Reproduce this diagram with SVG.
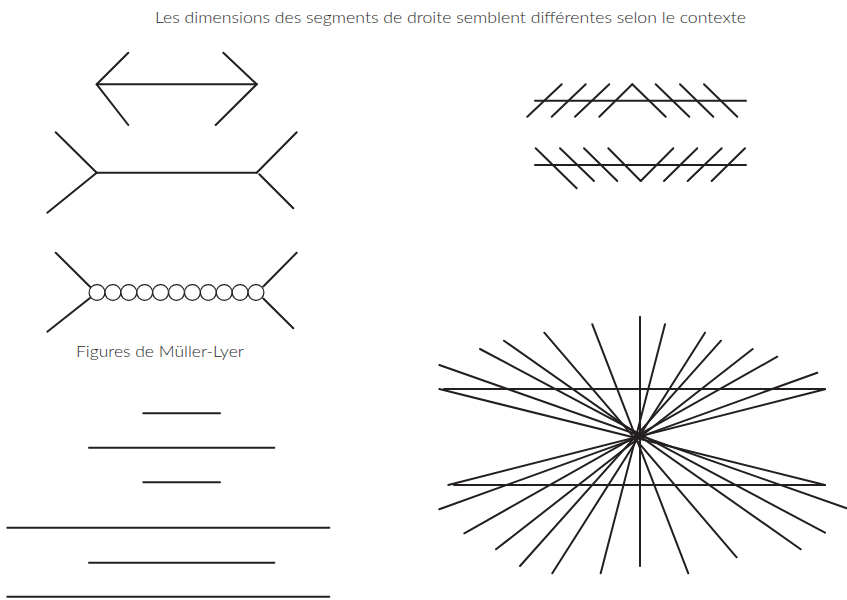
<svg xmlns="http://www.w3.org/2000/svg" width="847" height="600" viewBox="0 0 847 600">
  <style>
    .ln { stroke: #231f20; stroke-width: 2; stroke-linecap: round; fill: none; }
    .ring { stroke: #231f20; stroke-width: 1.2; fill: #fff; }
    .lbl { font-family: Lato, "Open Sans", "Liberation Sans", sans-serif; font-weight: 300; fill: #2b2b2b; }
  </style>
  <rect width="847" height="600" fill="#fff"/>

  <text class="lbl" x="155" y="23" font-size="16" textLength="591" lengthAdjust="spacingAndGlyphs">Les dimensions des segments de droite semblent différentes selon le contexte</text>

  <!-- Müller-Lyer: arrowheads pointing outward -->
  <g id="ml-outward" class="ln">
    <line x1="96.7" y1="84.3" x2="256.7" y2="84.3"/>
    <line x1="96.7" y1="84.3" x2="128.3" y2="52.7"/>
    <line x1="96.7" y1="84.3" x2="128.3" y2="125"/>
    <line x1="256.7" y1="84.3" x2="223.3" y2="52.7"/>
    <line x1="256.7" y1="84.3" x2="215.7" y2="125"/>
  </g>

  <!-- Müller-Lyer: fins pointing inward -->
  <g id="ml-inward" class="ln">
    <line x1="96.7" y1="172.7" x2="256.7" y2="172.7"/>
    <line x1="96.7" y1="172.7" x2="55.7" y2="132.3"/>
    <line x1="96.7" y1="172.7" x2="47.3" y2="212.7"/>
    <line x1="256.7" y1="172.7" x2="296.7" y2="132.3"/>
    <line x1="259.3" y1="174.3" x2="293.3" y2="208.3"/>
  </g>

  <!-- Müller-Lyer: chain of circles between fins -->
  <g id="ml-circles">
    <g class="ln">
      <line x1="90" y1="286.7" x2="55.7" y2="252.7"/>
      <line x1="90" y1="298" x2="47.3" y2="331.7"/>
      <line x1="263.3" y1="286.5" x2="296.7" y2="252.7"/>
      <line x1="263.3" y1="298.5" x2="293.3" y2="328.3"/>
    </g>
    <g class="ring">
      <circle cx="97" cy="292.5" r="7.9"/>
      <circle cx="112.9" cy="292.5" r="7.9"/>
      <circle cx="128.8" cy="292.5" r="7.9"/>
      <circle cx="144.7" cy="292.5" r="7.9"/>
      <circle cx="160.6" cy="292.5" r="7.9"/>
      <circle cx="176.5" cy="292.5" r="7.9"/>
      <circle cx="192.4" cy="292.5" r="7.9"/>
      <circle cx="208.3" cy="292.5" r="7.9"/>
      <circle cx="224.2" cy="292.5" r="7.9"/>
      <circle cx="240.1" cy="292.5" r="7.9"/>
      <circle cx="256" cy="292.5" r="7.9"/>
    </g>
  </g>

  <text class="lbl" x="76" y="357" font-size="15" textLength="168" lengthAdjust="spacingAndGlyphs">Figures de Müller-Lyer</text>

  <!-- Ponzo-style stacked segments -->
  <g id="stacked" class="ln">
    <line x1="143.3" y1="413.3" x2="220" y2="413.3"/>
    <line x1="89" y1="447.7" x2="274.3" y2="447.7"/>
    <line x1="143.3" y1="482.3" x2="220" y2="482.3"/>
    <line x1="7.3" y1="527.7" x2="329.3" y2="527.7"/>
    <line x1="89" y1="562.7" x2="274.3" y2="562.7"/>
    <line x1="7.3" y1="596.7" x2="329.3" y2="596.7"/>
  </g>

  <!-- Zöllner-style hatched parallels: upper -->
  <g id="hatch-top" class="ln">
    <line x1="535" y1="100.7" x2="746" y2="100.7"/>
    <line x1="527.3" y1="116.7" x2="561.7" y2="84.3"/>
    <line x1="551.7" y1="116.7" x2="585.7" y2="84.3"/>
    <line x1="575" y1="116.7" x2="609.3" y2="84.3"/>
    <line x1="599.3" y1="116.7" x2="632.3" y2="84.3"/>
    <line x1="632.3" y1="84.3" x2="665.7" y2="116.7"/>
    <line x1="655.7" y1="84.3" x2="689.3" y2="116.7"/>
    <line x1="680" y1="84.3" x2="713.3" y2="116.7"/>
    <line x1="704" y1="84.3" x2="737.3" y2="116.7"/>
  </g>

  <!-- Zöllner-style hatched parallels: lower -->
  <g id="hatch-bottom" class="ln">
    <line x1="535" y1="165" x2="746" y2="165"/>
    <line x1="535.7" y1="148.3" x2="576.7" y2="188.3"/>
    <line x1="560" y1="148.3" x2="594" y2="181"/>
    <line x1="584" y1="148.3" x2="617.3" y2="181"/>
    <line x1="608.3" y1="148.3" x2="640.7" y2="181"/>
    <line x1="640.7" y1="181" x2="673.3" y2="148.3"/>
    <line x1="664" y1="181" x2="697.3" y2="148.3"/>
    <line x1="687.7" y1="181" x2="721.7" y2="148.3"/>
    <line x1="711.7" y1="181" x2="745" y2="148.3"/>
  </g>

  <!-- Hering-style radiating lines with two horizontals -->
  <g id="radial" class="ln">
    <line x1="444" y1="389" x2="825" y2="389"/>
    <line x1="454" y1="485" x2="825" y2="485"/>
    <line x1="640" y1="316.7" x2="640" y2="566"/>
    <line x1="592.3" y1="324.3" x2="688.3" y2="573.3"/>
    <line x1="544.3" y1="332.7" x2="736.7" y2="557.3"/>
    <line x1="504" y1="340.7" x2="800.7" y2="549.3"/>
    <line x1="480" y1="349" x2="825" y2="532.7"/>
    <line x1="439.3" y1="365" x2="846.7" y2="508.3"/>
    <line x1="439.3" y1="389" x2="825" y2="485"/>
    <line x1="665" y1="324.3" x2="600.7" y2="573.3"/>
    <line x1="705" y1="332.7" x2="552.3" y2="573.3"/>
    <line x1="721" y1="340.7" x2="520" y2="566"/>
    <line x1="752.7" y1="349" x2="496" y2="549.3"/>
    <line x1="777.3" y1="356.7" x2="464.3" y2="533.3"/>
    <line x1="817.3" y1="372.7" x2="439.3" y2="509.3"/>
    <line x1="825" y1="389.3" x2="448.3" y2="485"/>
  </g>
</svg>
